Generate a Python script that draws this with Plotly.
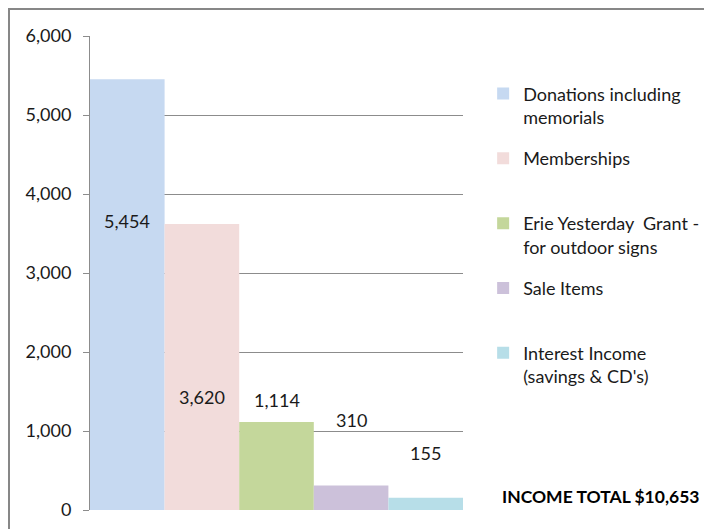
import plotly.graph_objects as go

categories = ["Donations including<br>memorials", "Memberships<br> ", "Erie Yesterday  Grant -<br>for outdoor signs",
              "Sale Items<br> ", "Interest Income<br>(savings & CD's)"]
values = [5454, 3620, 1114, 310, 155]
value_labels = ["5,454", "3,620", "1,114", "310", "155"]
label_y = [3660, 1430, 1390, 1140, 720]
colors = ["#C6D9F1", "#F2DCDB", "#C4D79B", "#CCC1DA", "#B7DEE8"]
y_ticks = [0, 1000, 2000, 3000, 4000, 5000, 6000]
total_text = "INCOME TOTAL $10,653"

FONT = "Lato"
W, H = 704, 521
L, R, T, B = 82, 249, 28, 19
pw, ph = W - L - R, H - T - B

fig = go.Figure()
for i, (name, v, c) in enumerate(zip(categories, values, colors)):
    fig.add_trace(go.Bar(x=[i], y=[v], name=name, marker=dict(color=c, line=dict(width=0)),
                         width=1, legendgroup=str(i), hoverinfo="skip"))

for i, (t, ly) in enumerate(zip(value_labels, label_y)):
    fig.add_annotation(x=i, y=ly, text=t, showarrow=False, xref="x", yref="y",
                       xanchor="center", yanchor="middle",
                       font=dict(family=FONT, size=18, color="#1a1a1a"))

fig.add_annotation(x=1.368, y=0.0295, xref="paper", yref="paper", text="<b>" + total_text + "</b>",
                   showarrow=False, xanchor="center", yanchor="middle",
                   font=dict(family=FONT, size=17.5, color="#000000"))

fig.add_shape(type="rect", xref="paper", yref="paper",
              x0=(1 - L) / pw, y0=-0.2, x1=2.0, y1=(H - B - 1) / ph,
              line=dict(color="#878787", width=2), fillcolor="rgba(0,0,0,0)", layer="below")

fig.update_layout(
    width=W, height=H,
    margin=dict(l=L, r=R, t=T, b=B, autoexpand=False),
    paper_bgcolor="white", plot_bgcolor="white",
    barmode="overlay",
    font=dict(family=FONT, size=18, color="#1a1a1a"),
    showlegend=True,
    legend=dict(x=1.054, y=0.917, xanchor="left", yanchor="top", traceorder="grouped",
                tracegroupgap=15, valign="top", itemwidth=30,
                font=dict(family=FONT, size=18, color="#1a1a1a"), bgcolor="rgba(0,0,0,0)"),
    xaxis=dict(range=[-0.5, 4.5], showticklabels=False, showgrid=False, zeroline=False,
               showline=False, ticks="", fixedrange=True),
    yaxis=dict(range=[0, 6000], tickvals=y_ticks, tickformat=",", showgrid=True,
               gridcolor="#8c8c8c", gridwidth=1, zeroline=False, showline=True,
               linecolor="#8c8c8c", linewidth=1, ticks="outside", ticklen=6,
               tickcolor="#8c8c8c", ticklabelstandoff=8,
               tickfont=dict(family=FONT, size=18, color="#1a1a1a")),
)

fig.write_html("out.html")
